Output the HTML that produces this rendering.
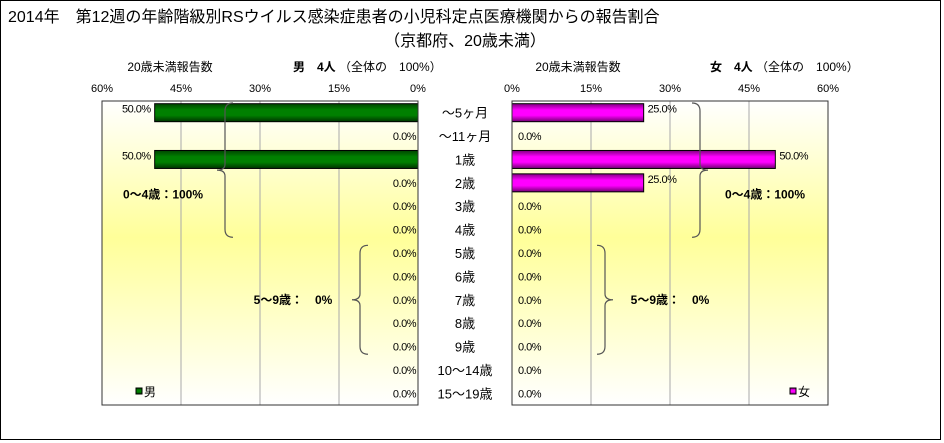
<!DOCTYPE html>
<html><head><meta charset="utf-8">
<style>
body{margin:0;background:#fff;}
svg{display:block;font-family:"Liberation Sans","Noto Sans CJK JP",sans-serif;}
</style></head>
<body>
<svg id="c" width="944" height="443" viewBox="0 0 944 443">
<defs>
<linearGradient id="bg" x1="0" y1="0" x2="0" y2="1">
<stop offset="0" stop-color="#ffffff"/>
<stop offset="0.45" stop-color="#ffff99"/>
<stop offset="1" stop-color="#ffffff"/>
</linearGradient>
<linearGradient id="gm" x1="0" y1="0" x2="0" y2="1">
<stop offset="0" stop-color="#004400"/><stop offset="0.35" stop-color="#008000"/><stop offset="0.65" stop-color="#008000"/><stop offset="1" stop-color="#003300"/>
</linearGradient>
<linearGradient id="gf" x1="0" y1="0" x2="0" y2="1">
<stop offset="0" stop-color="#800080"/><stop offset="0.35" stop-color="#ff00ff"/><stop offset="0.65" stop-color="#ff00ff"/><stop offset="1" stop-color="#700070"/>
</linearGradient>
</defs>
<rect x="0.5" y="0.5" width="940" height="439" fill="#fff" stroke="#000"/>
<text x="8" y="22" font-size="16">2014年　第12週の年齢階級別RSウイルス感染症患者の小児科定点医療機関からの報告割合</text>
<text x="465" y="46" font-size="16" text-anchor="middle">（京都府、20歳未満）</text>
<text x="170" y="71" font-size="12" text-anchor="middle">20歳未満報告数</text>
<text x="293" y="71" font-size="12"><tspan font-weight="bold">男　4人</tspan> （全体の　100%）</text>
<text x="578" y="71" font-size="12" text-anchor="middle">20歳未満報告数</text>
<text x="710" y="71" font-size="12"><tspan font-weight="bold">女　4人</tspan> （全体の　100%）</text>
<g id="plots"></g>
</svg>
<script>
const categories=["～5ヶ月","～11ヶ月","1歳","2歳","3歳","4歳","5歳","6歳","7歳","8歳","9歳","10～14歳","15～19歳"];
const maleValues=[50,0,50,0,0,0,0,0,0,0,0,0,0];
const femaleValues=[25,0,50,25,0,0,0,0,0,0,0,0,0];
const tickValues=[0,15,30,45,60];
const groupLabels=["0～4歳：100%","5～9歳：　0%"];
const femaleGroupLabels=["0～4歳：100%","5～9歳：　0%"];
const NS="http://www.w3.org/2000/svg";
const g=document.getElementById('plots');
const plotTop=101,plotBot=405,rowH=(plotBot-plotTop)/categories.length,W=316;
const L={x0:102,dir:-1,base:418},R={x0:512,dir:1,base:512};
function mk(t,a,txt){const e=document.createElementNS(NS,t);for(const k in a)e.setAttribute(k,a[k]);if(txt!=null)e.textContent=txt;g.appendChild(e);return e;}
function xs(side,v){return side.base+side.dir*v/60*W;}
function ys(i){return plotTop+i*rowH;}
[[L,maleValues,'male','url(#gm)'],[R,femaleValues,'female','url(#gf)']].forEach(([s,vals,nm,fill])=>{
  const bg=mk('rect',{x:s.x0,y:plotTop,width:W,height:plotBot-plotTop,fill:'url(#bg)'});
  
  
  tickValues.forEach(t=>{
    const x=xs(s,t);
    if(t>0&&t<60){const ln=mk('line',{x1:x,y1:plotTop,x2:x,y2:plotBot,stroke:'#aaa'});
    
    }
    const tx=mk('text',{x:x,y:92,'font-size':11,'text-anchor':'middle'},t+'%');
    
    
  });
  vals.forEach((v,i)=>{
    const y=ys(i)+rowH/2;
    if(v>0){
      const x1=xs(s,v);
      const b=mk('rect',{x:Math.min(x1,s.base),y:y-9,width:Math.abs(x1-s.base),height:18,fill:fill,stroke:'#000','stroke-width':1});
      
      
    }
    let lx,anc;
    if(s===L){ if(v>0){lx=xs(s,v)-4;anc='end';}else{lx=s.base-2;anc='end';} }
    else { if(v>0){lx=xs(s,v)+4;anc='start';}else{lx=s.base+6;anc='start';} }
    const lb=mk('text',{x:lx,y:y+(v>0?0:4),'font-size':11,'text-anchor':anc,'letter-spacing':'-0.5'},v.toFixed(1)+'%');
    
    
  });
  const fr=mk('rect',{x:s.x0,y:plotTop,width:W,height:plotBot-plotTop,fill:'none',stroke:'#333'});
  
  
});
categories.forEach((c,i)=>{
  const t=mk('text',{x:465,y:ys(i)+rowH/2+5,'font-size':13,'text-anchor':'middle'},c);
  
  
});
function brace(x,y1,y2,dir){
  const m=(y1+y2)/2,d=dir*8;
  const p=`M${x+d},${y1} Q${x},${y1} ${x},${y1+8} L${x},${m-6} Q${x},${m} ${x-d},${m} Q${x},${m} ${x},${m+6} L${x},${y2-8} Q${x},${y2} ${x+d},${y2}`;
  const e=mk('path',{d:p,fill:'none',stroke:'#555','stroke-width':1.2});
  
  
}
brace(225,ys(0)+2,ys(6)-4,1);
brace(360,ys(6)+4,ys(11)-4,1);
brace(700,ys(0)+2,ys(6)-4,-1);
brace(605,ys(6)+4,ys(11)-4,-1);
[[163,ys(4),groupLabels[0],'male'],[293,ys(8)+rowH/2,groupLabels[1],'male'],[765,ys(4),femaleGroupLabels[0],'female'],[670,ys(8)+rowH/2,femaleGroupLabels[1],'female']].forEach(([x,y,t,n])=>{
  const e=mk('text',{x:x,y:y+4,'font-size':12,'font-weight':'bold','text-anchor':'middle'},t);
  
  
});
[[136,'url(#gm)','男','male'],[790,'url(#gf)','女','female']].forEach(([x,f,t,n])=>{
  const r=mk('rect',{x:x,y:388,width:6,height:6,fill:f,stroke:'#000'});
  
  
  const tx=mk('text',{x:x+8,y:396,'font-size':12},t);
  
  
});
</script>
</body></html>
